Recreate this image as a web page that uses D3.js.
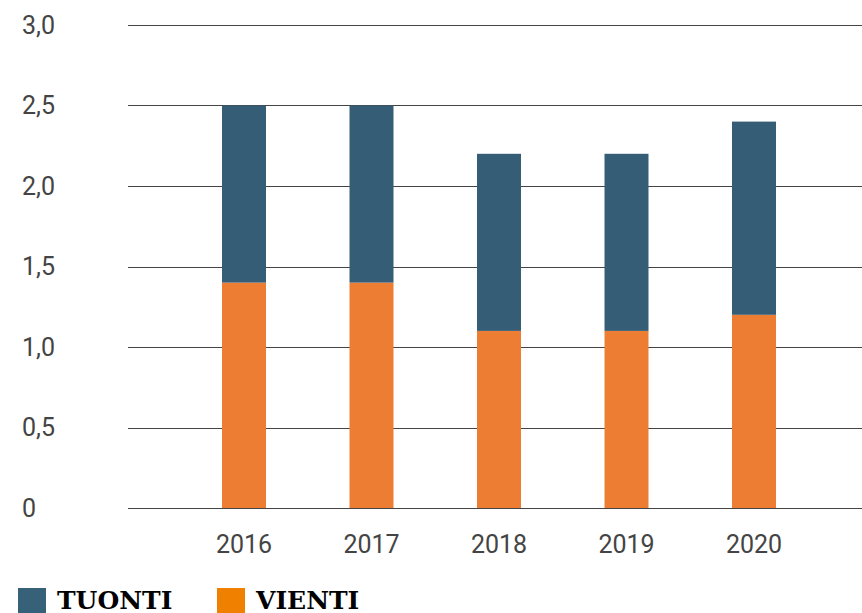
<!DOCTYPE html>
<html>
<head>
<meta charset="utf-8">
<script src="https://cdn.jsdelivr.net/npm/d3@7"></script>
<style>
  body { margin: 0; background: #fff; }
  text { font-family: Roboto, "Noto Sans", sans-serif; }
</style>
</head>
<body>
<svg id="chart" width="862" height="613"></svg>
<script>
// data
const years = ['2016', '2017', '2018', '2019', '2020'];
const vienti = [1.4, 1.4, 1.1, 1.1, 1.2];
const tuonti = [1.1, 1.1, 1.1, 1.1, 1.2];
const yTicks = [0, 0.5, 1.0, 1.5, 2.0, 2.5, 3.0];
const seriesNames = ['TUONTI', 'VIENTI'];

const svg = d3.select('#chart');

// scales
const x = d3.scaleBand()
            .domain(years)
            .range([180.25, 817.75])
            .paddingInner(0.655)
            .paddingOuter(0.3275);
const y = d3.scaleLinear()
            .domain([0, 3])
            .range([508, 25]);

// gridlines + y labels
const fmt = v => v === 0 ? '0' : d3.format('.1f')(v).replace('.', ',');
const grid = svg.append('g').attr('class', 'grid');
grid.selectAll('line')
    .data(yTicks)
    .join('line')
    .attr('x1', 128)
    .attr('x2', 862)
    .attr('y1', d => Math.round(y(d)) + 0.5)
    .attr('y2', d => Math.round(y(d)) + 0.5)
    .attr('stroke', '#444')
    .attr('stroke-width', 1.2);
grid.selectAll('text')
    .data(yTicks)
    .join('text')
    .attr('x', 22)
    .attr('y', d => y(d))
    .attr('dy', '0.35em')
    .attr('font-size', 25)
    .attr('fill', '#444')
    .text(fmt);

// bars
const stacked = years.map((yr, i) => ({ year: yr, v: vienti[i], t: tuonti[i] }));
const bars = svg.append('g').attr('class', 'bars');
bars.selectAll('rect.vienti')
    .data(stacked)
    .join('rect')
    .attr('class', 'vienti')
    .attr('x', d => x(d.year))
    .attr('width', x.bandwidth())
    .attr('y', d => y(d.v))
    .attr('height', d => y(0) - y(d.v))
    .attr('fill', '#ed7d32');
bars.selectAll('rect.tuonti')
    .data(stacked)
    .join('rect')
    .attr('class', 'tuonti')
    .attr('x', d => x(d.year))
    .attr('width', x.bandwidth())
    .attr('y', d => y(d.v + d.t))
    .attr('height', d => y(d.v) - y(d.v + d.t))
    .attr('fill', '#365d76');

// x labels
svg.append('g')
   .selectAll('text')
   .data(years)
   .join('text')
   .attr('x', d => x(d) + x.bandwidth() / 2)
   .attr('y', 553)
   .attr('text-anchor', 'middle')
   .attr('font-size', 25)
   .attr('fill', '#444')
   .text(d => d);

// legend
const legendColors = d3.scaleOrdinal().domain(seriesNames).range(['#376079', '#f08000']);
const legend = svg.append('g')
                  .selectAll('g')
                  .data(seriesNames)
                  .join('g')
                  .attr('transform', (d, i) => `translate(${18 + i * 199}, 588)`);
legend.append('rect')
      .attr('width', 28)
      .attr('height', 28)
      .attr('fill', d => legendColors(d));
legend.append('text')
      .attr('x', 39)
      .attr('y', 21)
      .style('font-family', '"DejaVu Serif", serif')
      .style('font-weight', 'bold')
      .style('font-size', '25px')
      .attr('fill', '#000')
      .text(d => d);
</script>
</body>
</html>
